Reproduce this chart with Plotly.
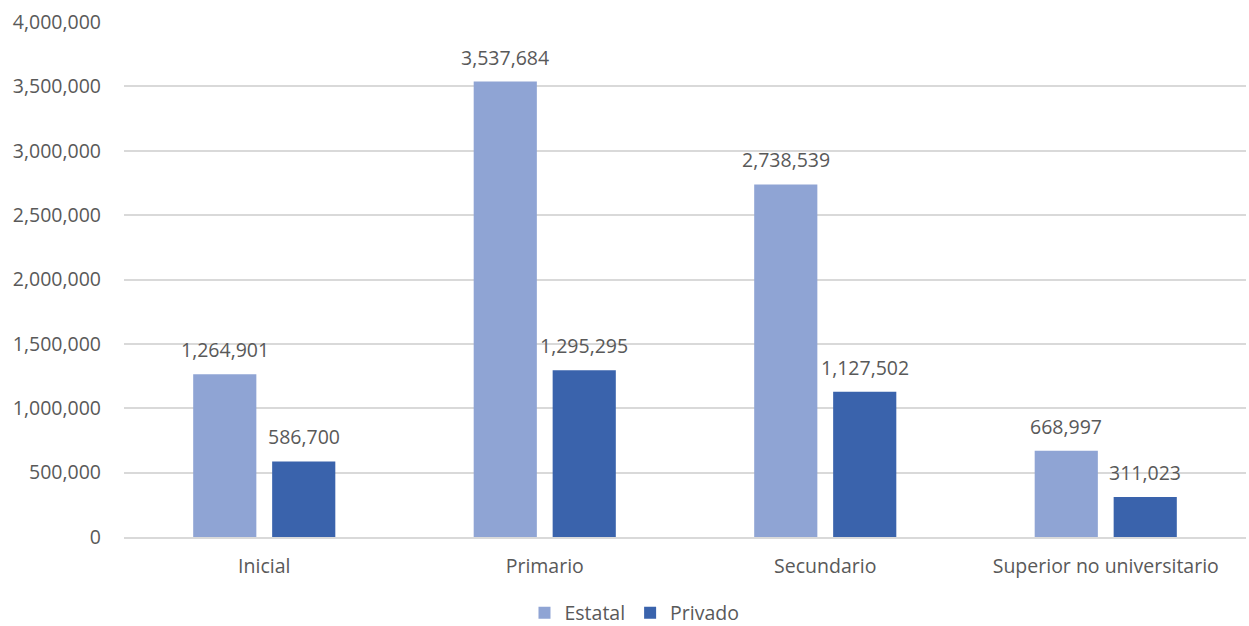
import plotly.graph_objects as go

categories = ["Inicial", "Primario", "Secundario", "Superior no universitario"]
estatal = [1264901, 3537684, 2738539, 668997]
privado = [586700, 1295295, 1127502, 311023]

font_family = "Open Sans, DejaVu Sans, sans-serif"
txt_color = "#595959"
fs = 19.5
bargap = 0.437
ml, mr = 124, 3

fig = go.Figure()
fig.add_trace(go.Bar(name="Estatal", x=categories, y=estatal,
                     marker=dict(color="#8FA4D4", line=dict(width=0))))
fig.add_trace(go.Bar(name="Privado", x=categories, y=privado,
                     marker=dict(color="#3A63AC", line=dict(width=0))))

# data labels above each bar
plot_w = 1249 - ml - mr
slot = plot_w / len(categories) * (1 - bargap) / 2
for vals, sign in ((estatal, -1), (privado, 1)):
    for c, v in zip(categories, vals):
        fig.add_annotation(x=c, y=v, text=f"{v:,}", showarrow=False,
                           xshift=sign * slot / 2, yanchor="bottom", yshift=9,
                           font=dict(size=fs, color=txt_color, family=font_family))

fig.update_layout(
    width=1249, height=626,
    margin=dict(l=ml, r=mr, t=22, b=89, autoexpand=False),
    paper_bgcolor="white", plot_bgcolor="white",
    barmode="group", bargap=bargap, bargroupgap=0.2,
    font=dict(family=font_family, color=txt_color, size=fs),
    showlegend=True,
    legend=dict(orientation="h", xref="container", yref="container",
                x=0.508, xanchor="center", y=1 - 613 / 626, yanchor="middle",
                font=dict(size=fs, color=txt_color), itemwidth=30,
                tracegroupgap=0, bgcolor="rgba(0,0,0,0)"),
    xaxis=dict(showline=True, linecolor="#D9D9D9", linewidth=1.5, ticks="",
               automargin=False, ticklabelstandoff=11,
               tickfont=dict(size=fs, color=txt_color)),
    yaxis=dict(range=[0, 4000000], dtick=500000, tickformat=",",
               gridcolor="#D9D9D9", gridwidth=1.5, zeroline=False,
               showline=False, ticks="", ticklabelstandoff=22, automargin=False,
               tickfont=dict(size=fs, color=txt_color)),
)
fig.write_html("out.html")
